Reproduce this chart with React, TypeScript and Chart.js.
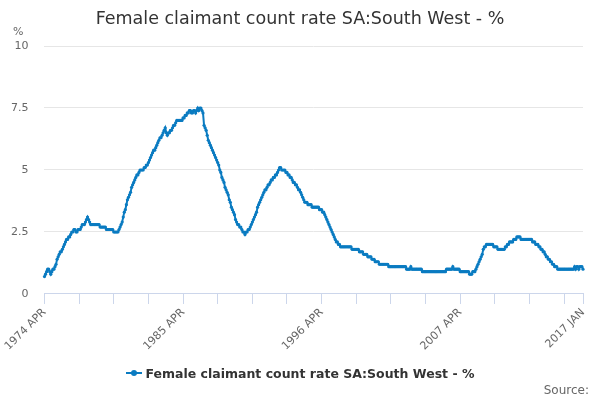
import React, { useEffect, useRef } from "react";
import { Chart, registerables } from "chart.js";

Chart.register(...registerables);

const TITLE = "Female claimant count rate SA:South West - %";
const SERIES_NAME = "Female claimant count rate SA:South West - %";
const LINE_COLOR = "#0a7bc1";
const FONT = "'DejaVu Sans', 'Liberation Sans', sans-serif";

// monthly values, 1974 APR .. 2017 JAN
const y1974 = [0.7, 0.8, 0.9, 1.0, 1.0, 0.9, 0.8, 0.9, 1.0]; // Apr-Dec
const y1975 = [1.0, 1.1, 1.2, 1.4, 1.5, 1.6, 1.7, 1.7, 1.8, 1.9, 2.0, 2.1];
const y1976 = [2.2, 2.2, 2.3, 2.3, 2.4, 2.5, 2.5, 2.6, 2.6, 2.5, 2.5, 2.6];
const y1977 = [2.6, 2.6, 2.7, 2.8, 2.8, 2.8, 2.9, 3.0, 3.1, 3.0, 2.9, 2.8];
const y1978 = [2.8, 2.8, 2.8, 2.8, 2.8, 2.8, 2.8, 2.8, 2.7, 2.7, 2.7, 2.7];
const y1979 = [2.7, 2.7, 2.6, 2.6, 2.6, 2.6, 2.6, 2.6, 2.6, 2.5, 2.5, 2.5];
const y1980 = [2.5, 2.5, 2.6, 2.7, 2.8, 2.9, 3.1, 3.3, 3.4, 3.6, 3.8, 3.9];
const y1981 = [4.0, 4.1, 4.3, 4.4, 4.5, 4.6, 4.7, 4.8, 4.8, 4.9, 5.0, 5.0];
const y1982 = [5.0, 5.0, 5.1, 5.1, 5.2, 5.2, 5.3, 5.4, 5.5, 5.6, 5.7, 5.8];
const y1983 = [5.8, 5.9, 6.0, 6.1, 6.2, 6.3, 6.3, 6.4, 6.5, 6.6, 6.7, 6.5];
const y1984 = [6.4, 6.5, 6.5, 6.6, 6.6, 6.7, 6.8, 6.8, 6.9, 7.0, 7.0, 7.0];
const y1985 = [7.0, 7.0, 7.0, 7.1, 7.1, 7.2, 7.2, 7.3, 7.3, 7.4, 7.4, 7.3];
const y1986 = [7.3, 7.4, 7.4, 7.3, 7.4, 7.5, 7.4, 7.5, 7.5, 7.4, 7.3, 6.8];
const y1987 = [6.7, 6.6, 6.4, 6.2, 6.1, 6.0, 5.9, 5.8, 5.7, 5.6, 5.5, 5.4];
const y1988 = [5.3, 5.2, 5.0, 4.9, 4.7, 4.6, 4.5, 4.3, 4.2, 4.1, 4.0, 3.8];
const y1989 = [3.7, 3.5, 3.4, 3.3, 3.2, 3.0, 2.9, 2.8, 2.8, 2.7, 2.7, 2.6];
const y1990 = [2.5, 2.5, 2.4, 2.5, 2.5, 2.6, 2.6, 2.7, 2.8, 2.9, 3.0, 3.1];
const y1991 = [3.2, 3.3, 3.5, 3.6, 3.7, 3.8, 3.9, 4.0, 4.1, 4.2, 4.2, 4.3];
const y1992 = [4.4, 4.4, 4.5, 4.6, 4.6, 4.7, 4.7, 4.8, 4.8, 4.9, 5.0, 5.1];
const y1993 = [5.1, 5.0, 5.0, 5.0, 5.0, 4.9, 4.9, 4.8, 4.8, 4.7, 4.7, 4.6];
const y1994 = [4.5, 4.5, 4.4, 4.4, 4.3, 4.2, 4.2, 4.1, 4.0, 3.9, 3.8, 3.7];
const y1995 = [3.7, 3.7, 3.6, 3.6, 3.6, 3.6, 3.5, 3.5, 3.5, 3.5, 3.5, 3.5];
const y1996 = [3.5, 3.4, 3.4, 3.4, 3.3, 3.3, 3.2, 3.1, 3.0, 2.9, 2.8, 2.7];
const y1997 = [2.6, 2.5, 2.4, 2.3, 2.2, 2.1, 2.1, 2.0, 2.0, 1.9, 1.9, 1.9];
const y1998 = [1.9, 1.9, 1.9, 1.9, 1.9, 1.9, 1.9, 1.9, 1.8, 1.8, 1.8, 1.8];
const y1999 = [1.8, 1.8, 1.8, 1.7, 1.7, 1.7, 1.7, 1.6, 1.6, 1.6, 1.6, 1.5];
const y2000 = [1.5, 1.5, 1.5, 1.4, 1.4, 1.4, 1.3, 1.3, 1.3, 1.3, 1.2, 1.2];
const y2001 = [1.2, 1.2, 1.2, 1.2, 1.2, 1.2, 1.2, 1.1, 1.1, 1.1, 1.1, 1.1];
const y2002 = [1.1, 1.1, 1.1, 1.1, 1.1, 1.1, 1.1, 1.1, 1.1, 1.1, 1.1, 1.1];
const y2003 = [1.0, 1.0, 1.0, 1.0, 1.1, 1.0, 1.0, 1.0, 1.0, 1.0, 1.0, 1.0];
const y2004 = [1.0, 1.0, 1.0, 0.9, 0.9, 0.9, 0.9, 0.9, 0.9, 0.9, 0.9, 0.9];
const y2005 = [0.9, 0.9, 0.9, 0.9, 0.9, 0.9, 0.9, 0.9, 0.9, 0.9, 0.9, 0.9];
const y2006 = [0.9, 0.9, 1.0, 1.0, 1.0, 1.0, 1.0, 1.0, 1.1, 1.0, 1.0, 1.0];
const y2007 = [1.0, 1.0, 1.0, 0.9, 0.9, 0.9, 0.9, 0.9, 0.9, 0.9, 0.9, 0.9];
const y2008 = [0.8, 0.8, 0.8, 0.9, 0.9, 0.9, 1.0, 1.1, 1.2, 1.3, 1.4, 1.5];
const y2009 = [1.6, 1.8, 1.9, 1.9, 2.0, 2.0, 2.0, 2.0, 2.0, 2.0, 2.0, 1.9];
const y2010 = [1.9, 1.9, 1.9, 1.8, 1.8, 1.8, 1.8, 1.8, 1.8, 1.8, 1.9, 1.9];
const y2011 = [2.0, 2.0, 2.1, 2.1, 2.1, 2.1, 2.2, 2.2, 2.2, 2.3, 2.3, 2.3];
const y2012 = [2.3, 2.2, 2.2, 2.2, 2.2, 2.2, 2.2, 2.2, 2.2, 2.2, 2.2, 2.2];
const y2013 = [2.1, 2.1, 2.1, 2.0, 2.0, 2.0, 1.9, 1.9, 1.8, 1.8, 1.7, 1.7];
const y2014 = [1.6, 1.5, 1.5, 1.4, 1.4, 1.3, 1.3, 1.2, 1.2, 1.1, 1.1, 1.1];
const y2015 = [1.0, 1.0, 1.0, 1.0, 1.0, 1.0, 1.0, 1.0, 1.0, 1.0, 1.0, 1.0];
const y2016 = [1.0, 1.0, 1.0, 1.0, 1.1, 1.0, 1.1, 1.1, 1.0, 1.1, 1.1, 1.1];
const y2017 = [1.0]; // Jan

const values = [
  ...y1974, ...y1975, ...y1976, ...y1977, ...y1978, ...y1979, ...y1980,
  ...y1981, ...y1982, ...y1983, ...y1984, ...y1985, ...y1986, ...y1987,
  ...y1988, ...y1989, ...y1990, ...y1991, ...y1992, ...y1993, ...y1994,
  ...y1995, ...y1996, ...y1997, ...y1998, ...y1999, ...y2000, ...y2001,
  ...y2002, ...y2003, ...y2004, ...y2005, ...y2006, ...y2007, ...y2008,
  ...y2009, ...y2010, ...y2011, ...y2012, ...y2013, ...y2014, ...y2015,
  ...y2016, ...y2017,
];

const MONTHS = ["JAN", "FEB", "MAR", "APR", "MAY", "JUN", "JUL", "AUG", "SEP", "OCT", "NOV", "DEC"];
const START_YEAR = 1974;
const START_MONTH = 3; // APR

const labels = values.map((_, i) => {
  const m = START_MONTH + i;
  return `${START_YEAR + Math.floor(m / 12)} ${MONTHS[m % 12]}`;
});

// tick marks every 33 months, labels on every 4th, plus the last month
const TICK_STEP = 33;
const LABEL_EVERY = 4;
const Y_TICKS = [0, 2.5, 5, 7.5, 10];

const percentLabel = {
  id: "percentLabel",
  afterDraw(chart: any) {
    const { ctx, chartArea } = chart;
    ctx.save();
    ctx.font = `11px ${FONT}`;
    ctx.fillStyle = "#666666";
    ctx.textAlign = "left";
    ctx.textBaseline = "middle";
    ctx.fillText("%", 13, chartArea.top - 14);
    ctx.restore();
  },
};

const App = () => {
  const chartRef = useRef<HTMLCanvasElement>(null);

  useEffect(() => {
    if (!chartRef.current) return;
    const last = values.length - 1;

    const chart = new Chart(chartRef.current, {
      type: "line",
      data: {
        labels,
        datasets: [
          {
            label: SERIES_NAME,
            data: values,
            borderColor: LINE_COLOR,
            backgroundColor: LINE_COLOR,
            borderWidth: 2,
            pointRadius: 1.6,
            pointBorderWidth: 0,
            pointBackgroundColor: LINE_COLOR,
            tension: 0,
          },
        ],
      },
      options: {
        animation: false,
        responsive: true,
        maintainAspectRatio: false,
        layout: { padding: { left: -5, right: 17, top: 46, bottom: 45 } },
        plugins: {
          title: { display: false },
          legend: { display: false },
          tooltip: { enabled: false },
        },
        scales: {
          x: {
            type: "category",
            grid: {
              drawOnChartArea: false,
              drawTicks: true,
              tickLength: 10,
              color: "#ccd6eb",
            },
            border: { color: "#ccd6eb" },
            afterBuildTicks: (scale: any) => {
              const ticks = [];
              for (let v = 0; v < last; v += TICK_STEP) ticks.push({ value: v });
              ticks.push({ value: last });
              scale.ticks = ticks;
            },
            ticks: {
              autoSkip: false,
              maxRotation: 45,
              minRotation: 45,
              color: "#666666",
              font: { family: FONT, size: 11 },
              padding: 2,
              callback: function (this: any, value: any) {
                const v = Number(value);
                if (v === last || (v / TICK_STEP) % LABEL_EVERY === 0) return labels[v];
                return "";
              },
            },
          },
          y: {
            min: 0,
            max: 10,
            afterBuildTicks: (scale: any) => {
              scale.ticks = Y_TICKS.map((v) => ({ value: v }));
            },
            grid: { color: "#e6e6e6", drawTicks: false },
            border: { display: false },
            ticks: {
              color: "#666666",
              font: { family: FONT, size: 11 },
              padding: 16,
            },
          },
        },
      },
      plugins: [percentLabel],
    });

    return () => {
      chart.destroy();
    };
  }, []);

  return (
    <div style={{ position: "fixed", left: 0, top: 0, width: "600px", height: "400px", background: "#fff", fontFamily: FONT }}>
      <canvas ref={chartRef} width="600" height="400"></canvas>
      <div
        style={{
          position: "absolute",
          left: 0,
          width: "600px",
          top: "8px",
          textAlign: "center",
          fontSize: "17.5px",
          lineHeight: "20px",
          color: "#333333",
        }}
      >
        {TITLE}
      </div>
      <div
        style={{
          position: "absolute",
          left: 0,
          width: "600px",
          top: "365px",
          display: "flex",
          justifyContent: "center",
          alignItems: "center",
          height: "16px",
        }}
      >
        <span style={{ position: "relative", display: "inline-block", width: "16px", height: "2px", background: LINE_COLOR, marginRight: "4px" }}>
          <span
            style={{
              position: "absolute",
              left: "5px",
              top: "-2px",
              width: "6px",
              height: "6px",
              borderRadius: "3px",
              background: LINE_COLOR,
            }}
          />
        </span>
        <span style={{ fontSize: "12.5px", fontWeight: "bold", color: "#333333" }}>{SERIES_NAME}</span>
      </div>
      <div
        style={{
          position: "absolute",
          right: "11px",
          top: "383px",
          fontSize: "12px",
          color: "#666666",
        }}
      >
        Source:
      </div>
    </div>
  );
};

export default App;
